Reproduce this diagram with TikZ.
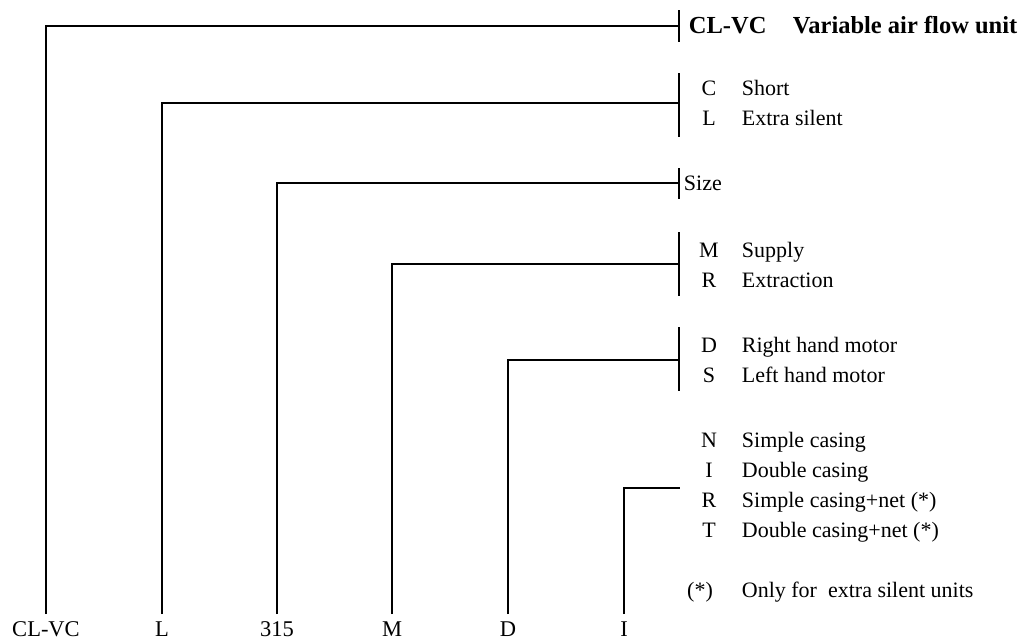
\documentclass[tikz,border=0pt]{standalone}
\usepackage{fontspec}
\setmainfont{Liberation Serif}
\begin{document}
\begin{tikzpicture}[x=1pt,y=-1pt,
  line width=1.8pt,
  txt/.style={font=\fontsize{22}{26}\selectfont,inner sep=0pt},
  bld/.style={font=\fontsize{24.5}{28}\selectfont\bfseries,inner sep=0pt,anchor=base west},
  code/.style={txt,anchor=base},
  desc/.style={txt,anchor=base west},
  lab/.style={font=\fontsize{22.5}{26}\selectfont,anchor=base,text height=15pt,inner xsep=0pt,inner ysep=6pt}]
\useasboundingbox (0,0) rectangle (1024,640);
% bottom labels
\node[lab] (n1) at (46,636) {CL-VC};
\node[lab] (n2) at (162,636) {L};
\node[lab] (n3) at (277,636) {315};
\node[lab] (n4) at (392,636) {M};
\node[lab] (n5) at (508,636) {D};
\node[lab] (n6) at (624,636) {I};
% tick bars
\coordinate (a1) at (679,10); \coordinate (b1) at (679,42); \coordinate (t1) at (679,26);
\coordinate (a2) at (679,73); \coordinate (b2) at (679,137); \coordinate (t2) at (679,103);
\coordinate (a3) at (679,168); \coordinate (b3) at (679,199); \coordinate (t3) at (679,183);
\coordinate (a4) at (679,232); \coordinate (b4) at (679,296); \coordinate (t4) at (679,264);
\coordinate (a5) at (679,327); \coordinate (b5) at (679,391); \coordinate (t5) at (679,360);
\coordinate (t6) at (680,488);
\draw (a1) -- (b1);
\draw (a2) -- (b2);
\draw (a3) -- (b3);
\draw (a4) -- (b4);
\draw (a5) -- (b5);
% connectors
\draw (n1.north) |- (t1);
\draw (n2.north) |- (t2);
\draw (n3.north) |- (t3);
\draw (n4.north) |- (t4);
\draw (n5.north) |- (t5);
\draw (n6.north) |- (t6);
% legend texts
\node[bld] (h1) at (688,33) {CL-VC};
\node[bld] (h2) at (792,33) {Variable air flow unit};
\node[code] (c1) at (709,95) {C};  \node[desc] (d1) at (741,95) {Short};
\node[code] (c2) at (709,125) {L}; \node[desc] (d2) at (741,125) {Extra silent};
\node[desc] (sz) at (683,190) {Size};
\node[code] (c3) at (709,257) {M}; \node[desc] (d3) at (741,257) {Supply};
\node[code] (c4) at (709,287) {R}; \node[desc] (d4) at (741,287) {Extraction};
\node[code] (c5) at (709,352) {D}; \node[desc] (d5) at (741,352) {Right hand motor};
\node[code] (c6) at (709,382) {S}; \node[desc] (d6) at (741,382) {Left hand motor};
\node[code] (c7) at (709,447) {N}; \node[desc] (d7) at (741,447) {Simple casing};
\node[code] (c8) at (709,477) {I};  \node[desc] (d8) at (741,477) {Double casing};
\node[code] (c9) at (709,507) {R}; \node[desc] (d9) at (741,507) {Simple casing+net (*)};
\node[code] (c10) at (709,537) {T}; \node[desc] (d10) at (741,537) {Double casing+net (*)};
\node[code] (c11) at (700,597) {(*)}; \node[desc] (d11) at (741,597) {Only for\ \ extra silent units};
\end{tikzpicture}
\end{document}
